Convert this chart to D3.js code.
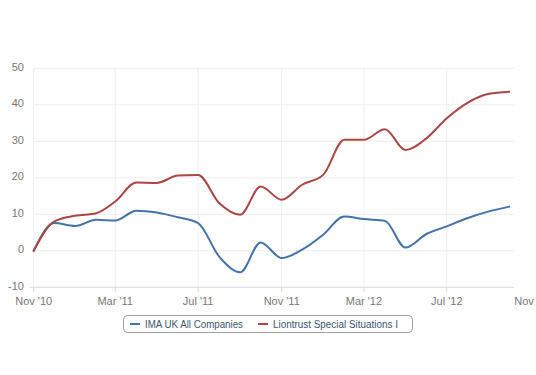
<!DOCTYPE html>
<html><head><meta charset="utf-8">
<script src="https://cdn.jsdelivr.net/npm/d3@7"></script>
<style>html,body{margin:0;padding:0;background:#fff;}svg{display:block;font-family:"Liberation Sans",Arial,sans-serif;}</style>
</head><body>
<svg id="c" width="536" height="375"></svg>
<script>
const months = ["2010-11","2010-12","2011-01","2011-02","2011-03","2011-04","2011-05","2011-06","2011-07","2011-08","2011-09","2011-10",
                "2011-11","2011-12","2012-01","2012-02","2012-03","2012-04","2012-05","2012-06","2012-07","2012-08","2012-09","2012-10"];
const imaUK = [0, 7.6, 6.8, 8.5, 8.3, 11.0, 10.5, 9.2, 7.6, -1.6, -5.9, 2.3, -2.0, 0.3, 4.4, 9.4, 8.7, 8.2, 0.9, 4.6, 6.7, 9.0, 10.8, 12.1];
const liontrust = [0, 8.0, 9.6, 10.3, 13.5, 18.7, 18.6, 20.6, 20.8, 13.1, 9.9, 17.6, 14.0, 18.1, 20.8, 30.4, 30.4, 33.3, 27.6, 30.8, 36.3, 40.6, 43.0, 43.6];
const seriesNames = ["IMA UK All Companies", "Liontrust Special Situations I"];
const xTickDates = ["2010-11","2011-03","2011-07","2011-11","2012-03","2012-07","2012-11"];
const xTickLabels = ["Nov '10","Mar '11","Jul '11","Nov '11","Mar '12","Jul '12","Nov"];
const yTicks = [-10, 0, 10, 20, 30, 40, 50];

(function () {
const colors = ["#4572A7", "#AA4643"];
const parse = s => { const [yy,m] = s.split("-").map(Number); return new Date(Date.UTC(yy, m-1, 1)); };

const svg = d3.select("#c");
const pL = 33.7, pR = 514, pT = 68.3, pB = 287.3;
const x = d3.scaleUtc().domain([parse("2010-11"), parse("2011-11")]).range([pL, 281.7]);
const y = d3.scaleLinear().domain([-10, 50]).range([pB, pT]);

// grid
const g = svg.append("g");
g.selectAll("line.h").data(yTicks.filter(v => v > -10)).enter().append("line")
  .attr("x1", pL).attr("x2", pR).attr("y1", d => y(d)).attr("y2", d => y(d))
  .attr("stroke", "#eeeeee").attr("stroke-width", 1);
g.selectAll("line.v").data(xTickDates.map(parse).filter(d => x(d) <= pR)).enter().append("line")
  .attr("x1", d => x(d)).attr("x2", d => x(d)).attr("y1", pT).attr("y2", pB)
  .attr("stroke", "#eeeeee").attr("stroke-width", 1);

// x axis line + ticks
svg.append("line").attr("x1", pL).attr("x2", pR).attr("y1", pB).attr("y2", pB)
  .attr("stroke", "#d8dde3").attr("stroke-width", 1);
svg.selectAll("line.xt").data(xTickDates.map(parse).filter(d => x(d) <= pR)).enter().append("line")
  .attr("x1", d => x(d)).attr("x2", d => x(d)).attr("y1", pB).attr("y2", pB + 5)
  .attr("stroke", "#d8dde3");
svg.append("line").attr("x1", pL - 4).attr("x2", pL).attr("y1", pB).attr("y2", pB).attr("stroke", "#d8dde3");

// x labels
svg.selectAll("text.xl").data(xTickDates).enter().append("text")
  .attr("x", d => Math.min(x(parse(d)), 524))
  .attr("y", pB + 18)
  .attr("text-anchor", "middle")
  .attr("fill", "#777").attr("font-size", "11px")
  .text((d, i) => xTickLabels[i]);

// y labels
svg.selectAll("text.yl").data(yTicks).enter().append("text")
  .attr("x", 24).attr("y", d => y(d) + 2.5)
  .attr("text-anchor", "end").attr("fill", "#777").attr("font-size", "11px")
  .text(d => d);

// lines
const line = d3.line().x(d => x(parse(d.m))).y(d => y(d.v)).curve(d3.curveMonotoneX);
[imaUK, liontrust].forEach((vals, i) => {
  svg.append("path").datum(months.map((m, j) => ({m, v: vals[j]})))
    .attr("d", line).attr("fill", "none").attr("stroke", colors[i])
    .attr("stroke-width", 2).attr("stroke-linejoin", "round").attr("stroke-linecap", "round");
});

// legend
const lg = svg.append("g");
lg.append("rect").attr("x", 123.5).attr("y", 315.5).attr("width", 289).attr("height", 17).attr("rx", 4)
  .attr("fill", "#fff").attr("stroke", "#a0a0a0").attr("stroke-width", 1);
const itemX = [130, 258];
const textW = [98, 125];
seriesNames.forEach((name, i) => {
  lg.append("line").attr("x1", itemX[i]).attr("x2", itemX[i] + 10).attr("y1", 324).attr("y2", 324)
    .attr("stroke", colors[i]).attr("stroke-width", 2);
  lg.append("text").attr("x", itemX[i] + 15).attr("y", 327.5).attr("fill", "#3E576F").attr("font-size", "10px")
    .attr("textLength", textW[i]).attr("lengthAdjust", "spacingAndGlyphs")
    .text(name);
});
})();
</script>
</body></html>
